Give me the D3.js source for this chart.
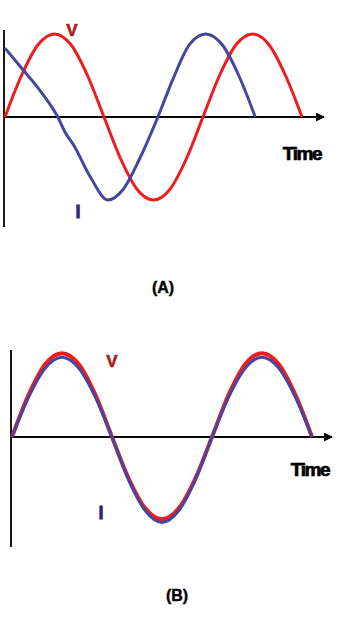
<!DOCTYPE html>
<html>
<head>
<meta charset="utf-8">
<script src="https://cdn.jsdelivr.net/npm/d3@7/dist/d3.min.js"></script>
<style>
html,body{margin:0;padding:0;background:#fff;}
svg{display:block;}
text{font-family:"Liberation Sans",Arial,sans-serif;font-weight:bold;}
</style>
</head>
<body>
<svg id="chart" width="342" height="618"></svg>
<script>
// Phase angle (degrees) of sample points, amplitude
const phaseA_V = [0,30,60,90,120,150,180,210,240,270,300,330,360,390,420,450,480,510,540];
const valuesA_V = [0,0.5,0.87,1,0.87,0.5,0,-0.5,-0.87,-1,-0.87,-0.5,0,0.5,0.87,1,0.87,0.5,0];
const phaseA_I = [0,30,60,82,96,109,125,155,187,215,245,278,305,335,365,395,425,455];
const valuesA_I = [0.83,0.59,0.35,0.15,0,-0.18,-0.34,-0.72,-1,-0.87,-0.5,0,0.45,0.87,1,0.87,0.5,0];

const phaseB_V = [0,30,60,90,120,150,180,210,240,270,300,330,360,390,420,450,480,510,540];
const valuesB_V = [0,0.51,0.88,1.01,0.88,0.51,0,-0.5,-0.86,-0.99,-0.86,-0.5,0,0.51,0.88,1.01,0.88,0.51,0];
const phaseB_I = [0,30,60,90,120,150,180,210,240,270,300,330,360,390,420,450,480,510,540];
const valuesB_I = [0,0.48,0.83,0.96,0.83,0.48,0,-0.52,-0.89,-1.03,-0.89,-0.52,0,0.48,0.83,0.96,0.83,0.48,0];

const panels = [
  {id:"A", x0:5, x1:302, axisEnd:327, yTop:30, yBot:227, y0:117, amp:83,
   V:{x:phaseA_V,y:valuesA_V}, I:{x:phaseA_I,y:valuesA_I},
   labelV:[72,36], labelI:[78,218], labelTime:[302,160], caption:[163,293]},
  {id:"B", x0:12, x1:312, axisEnd:335, yTop:350, yBot:547, y0:437, amp:83,
   V:{x:phaseB_V,y:valuesB_V}, I:{x:phaseB_I,y:valuesB_I},
   labelV:[112,367], labelI:[101,519], labelTime:[310,476], caption:[177,601]}
];

const svg = d3.select("#chart");
const defs = svg.append("defs");
defs.append("marker").attr("id","arrow").attr("viewBox","0 0 10 10")
  .attr("refX",9).attr("refY",5).attr("markerWidth",4.5).attr("markerHeight",4.5)
  .attr("markerUnits","strokeWidth").attr("orient","auto")
  .append("path").attr("d","M0,0L10,5L0,10Z").attr("fill","#000");

const redC = "#ee1c1c", blueC = "#4646a0";

panels.forEach(p => {
  const x = d3.scaleLinear().domain([0,540]).range([p.x0,p.x1]);
  const y = d3.scaleLinear().domain([-1,1]).range([p.y0+p.amp, p.y0-p.amp]);
  const g = svg.append("g");
  g.append("line").attr("x1",p.x0-1).attr("x2",p.x0-1).attr("y1",p.yTop).attr("y2",p.yBot)
    .attr("stroke","#000").attr("stroke-width",1.8);
  g.append("line").attr("x1",p.x0-1).attr("x2",p.axisEnd-3).attr("y1",p.y0).attr("y2",p.y0)
    .attr("stroke","#000").attr("stroke-width",2).attr("marker-end","url(#arrow)");
  const line = d3.line().x(d=>x(d[0])).y(d=>y(d[1])).curve(d3.curveMonotoneX);
  const vPts = p.V.x.map((d,i)=>[d,p.V.y[i]]);
  const iPts = p.I.x.map((d,i)=>[d,p.I.y[i]]);
  g.append("path").attr("d",line(vPts)).attr("fill","none").attr("stroke",redC)
    .attr("stroke-width",p.id==="A"?3:4).attr("stroke-linejoin","round");
  g.append("path").attr("d",line(iPts)).attr("fill","none").attr("stroke",blueC)
    .attr("stroke-width",3).attr("stroke-linejoin","round");
  g.append("text").attr("x",p.labelV[0]).attr("y",p.labelV[1]).attr("text-anchor","middle")
    .attr("font-size",17).attr("fill","#b01818").attr("stroke","#b01818").attr("stroke-width",0.6).text("V");
  g.append("text").attr("x",p.labelI[0]).attr("y",p.labelI[1]).attr("text-anchor","middle")
    .attr("font-size",18).attr("fill","#2a2a70").attr("stroke","#2a2a70").attr("stroke-width",0.8).text("I");
  g.append("text").attr("x",p.labelTime[0]).attr("y",p.labelTime[1]).attr("text-anchor","middle")
    .attr("font-size",19).attr("letter-spacing",-1.4).attr("fill","#000").attr("stroke","#000").attr("stroke-width",0.7).text("Time");
  g.append("text").attr("x",p.caption[0]).attr("y",p.caption[1]).attr("text-anchor","middle")
    .attr("font-size",16).attr("fill","#000").attr("stroke","#000").attr("stroke-width",0.4).text("(" + p.id + ")");
});
</script>
</body>
</html>
